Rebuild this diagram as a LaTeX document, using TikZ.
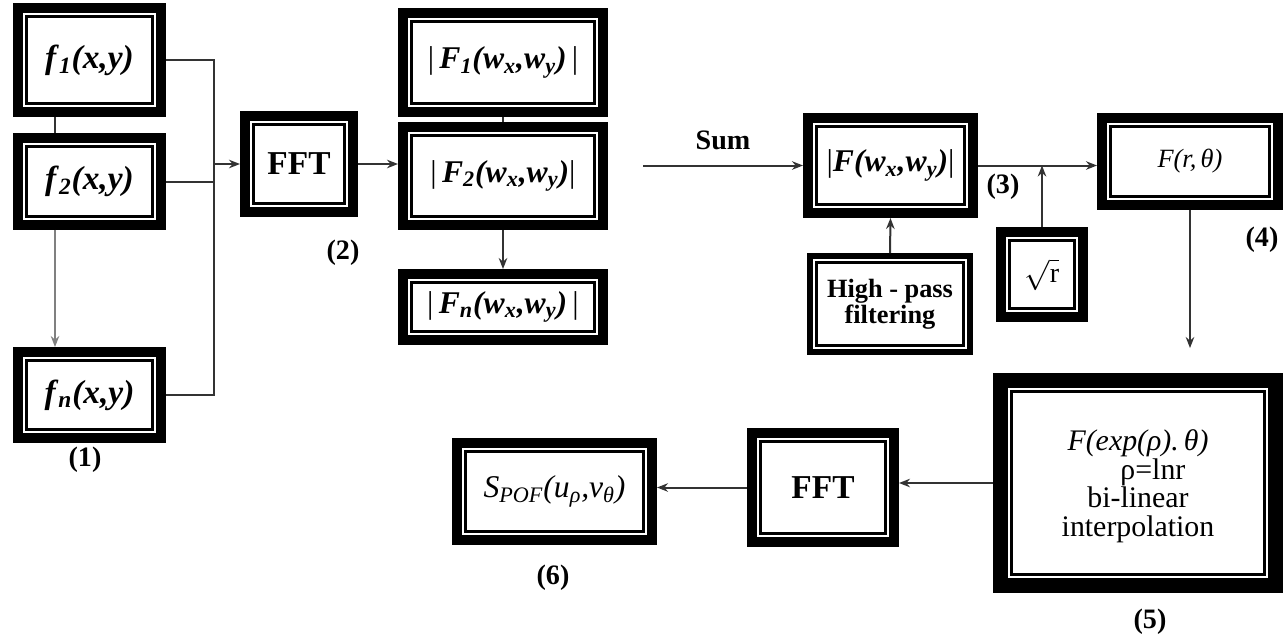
\documentclass[tikz,border=0pt]{standalone}
\usepackage{fontspec}
\setmainfont{Liberation Serif}
\usetikzlibrary{arrows.meta}

\newcommand{\bi}[1]{\textbf{\textit{#1}}}
\newcommand{\fsz}[1]{\fontsize{#1}{#1}\selectfont}

\tikzset{
  box/.style={draw=black, line width=#1, align=center, inner sep=0pt,
    path picture={\draw[line width=0.05cm]
      ([shift={(0.5*#1+0.07cm,-0.5*#1-0.07cm)}]path picture bounding box.north west) rectangle
      ([shift={(-0.5*#1-0.07cm,0.5*#1+0.07cm)}]path picture bounding box.south east);}},
  box/.default=0.2cm,
  link/.style={line width=0.04cm, draw=black!80},
  tag/.style={font=\bfseries\fsz{16}},
}

\begin{document}
\begin{tikzpicture}[x=0.02cm, y=-0.02cm, >={Stealth[length=0.22cm,width=0.17cm]}]
    \useasboundingbox (0,0) rectangle (1285,637);

    % input images
    \node[box, minimum width=2.86cm, minimum height=2.08cm, font=\fsz{19}] (f1) at (89.5,60) {\bi{f}\textsubscript{\bi{1}}\bi{(x,y)}};
    \node[box, minimum width=2.86cm, minimum height=1.74cm, font=\fsz{19}] (f2) at (89.5,181.5) {\bi{f}\textsubscript{\bi{2}}\bi{(x,y)}};
    \node[box, minimum width=2.86cm, minimum height=1.72cm, font=\fsz{19}] (fn) at (89.5,395) {\bi{f}\textsubscript{\bi{n}}\bi{(x,y)}};
    \coordinate (bus) at (214,62);

    % spectra
    \node[box, minimum width=2.16cm, minimum height=1.92cm, font=\bfseries\fsz{19}] (fft) at (299,164) {FFT};
    \node[box, minimum width=4.0cm, minimum height=1.98cm, font=\fsz{18}] (F1) at (503,62.5) {|\,\bi{F}\textsubscript{\bi{1}}\bi{(w}\textsubscript{\bi{x}}\bi{,w}\textsubscript{\bi{y}}\bi{)}\,|};
    \node[box, minimum width=4.0cm, minimum height=1.96cm, font=\fsz{18}] (F2) at (503,176) {|\,\bi{F}\textsubscript{\bi{2}}\bi{(w}\textsubscript{\bi{x}}\bi{,w}\textsubscript{\bi{y}}\bi{)}|};
    \node[box, minimum width=4.0cm, minimum height=1.32cm, font=\fsz{18}] (Fn) at (503,307) {|\,\bi{F}\textsubscript{\bi{n}}\bi{(w}\textsubscript{\bi{x}}\bi{,w}\textsubscript{\bi{y}}\bi{)}\,|};

    % sum and filtering
    \coordinate (s0) at (643,165.5);
    \node[box, minimum width=3.3cm, minimum height=1.9cm, font=\fsz{18}] (F) at (890.5,165.5) {|\bi{F(w}\textsubscript{\bi{x}}\bi{,w}\textsubscript{\bi{y}}\bi{)}|};
    \node[box=0.12cm, minimum width=3.2cm, minimum height=1.92cm, font=\bfseries\fsz{15}] (hp) at (890,304) {High - pass\\filtering};
    \node[box, minimum width=1.64cm, minimum height=1.7cm, font=\fsz{16}] (sq) at (1042,274.5) {$\sqrt{\mbox{r}}$};

    % log-polar
    \node[box, minimum width=3.52cm, minimum height=1.74cm, font=\itshape\fsz{15}] (Frt) at (1190,161.5) {F(r,\,θ)};
    \node[box=0.3cm, minimum width=5.5cm, minimum height=4.1cm, font=\fontsize{17}{16.2}\selectfont, text depth=0pt] (lp) at (1138,483)
        {\textit{F(exp(ρ).\,θ)}\\\hspace*{1em}ρ=lnr\\bi-linear\\interpolation};
    \node[box, minimum width=2.84cm, minimum height=2.18cm, font=\bfseries\fsz{19}] (fft2) at (823,487.5) {FFT};
    \node[box, minimum width=3.9cm, minimum height=1.94cm, font=\fsz{18}] (S) at (554.5,491.5)
        {\textit{S}\textsubscript{\textit{POF}}\textit{(u}\textsubscript{\textit{ρ}}\textit{,v}\textsubscript{\textit{θ}}\textit{)}};

    % step labels
    \node[tag] (l1) at (85,460) {(1)};
    \node[tag] (l2) at (343,253) {(2)};
    \node[tag] (l3) at (1003,187) {(3)};
    \node[tag] (l4) at (1262,240) {(4)};
    \node[tag] (l5) at (1150,622) {(5)};
    \node[tag] (l6) at (553,578) {(6)};

    % connectors
    \draw[link] ([xshift=-0.69cm]f1.south) -- ([xshift=-0.69cm]f2.north);
    \draw[link, line width=0.025cm, draw=black!50, ->] ([xshift=-0.69cm]f2.south) -- ([xshift=-0.69cm]fn.north);
    \draw[link] (f1.east) -- (f1.east -| bus) -- (fn.east -| bus) -- (fn.east);
    \draw[link] (f2.east) -- (f2.east -| bus);
    \draw[link, ->] (fft.west -| bus) -- (fft.west);
    \draw[link, ->] (fft.east) -- (fft.east -| F2.west);
    \draw[link] (F1.south) -- (F2.north);
    \draw[link, ->] (F2.south) -- (Fn.north);
    \draw[link, ->] (s0) -- (F.west) node[midway, above=0.18cm, font=\bfseries\fsz{16}] {Sum};
    \draw[link, ->] (hp.north) -- (F.south);
    \draw[link, ->] (F.east) -- (F.east -| Frt.west);
    \draw[link, ->] (sq.north) -- (sq.north |- F.east);
    \draw[link, ->, shorten >=0.5cm] (Frt.south) -- (Frt.south |- lp.north);
    \draw[link, ->] (lp.west) -- (lp.west -| fft2.east);
    \draw[link, ->] (fft2.west) -- (fft2.west -| S.east);
\end{tikzpicture}
\end{document}
